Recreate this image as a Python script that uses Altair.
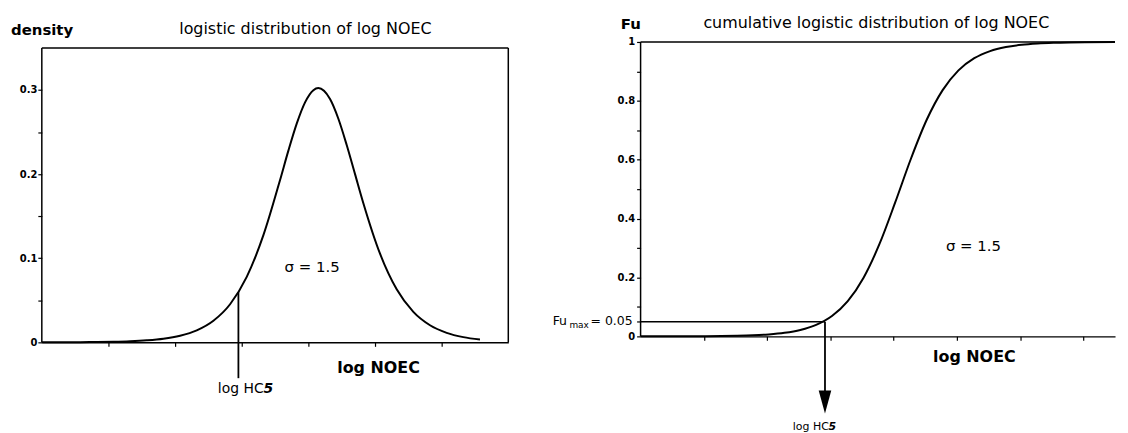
import altair as alt
import pandas as pd

# ---------------- data ----------------
# left panel: logistic density of log NOEC (sigma = 1.5)
dens_x = [0.0, 0.65, 1.15, 1.65, 2.15, 2.65, 3.15, 3.65, 4.15, 4.65, 5.15, 5.65, 6.15, 6.65,
          7.15, 7.4, 7.65, 7.9, 8.15, 8.3, 8.65, 8.9, 9.15, 9.4, 9.65, 10.15, 10.65, 11.15,
          11.65, 12.15, 12.65, 13.15]
dens_y = [0.0001, 0.0001, 0.0002, 0.0004, 0.0007, 0.0013, 0.0024, 0.0043, 0.0079, 0.0143,
          0.0257, 0.0453, 0.0778, 0.1274, 0.1930, 0.2279, 0.2600, 0.2853, 0.2998, 0.3023,
          0.2892, 0.2658, 0.2346, 0.2000, 0.1654, 0.1054, 0.0630, 0.0362, 0.0203, 0.0113,
          0.0062, 0.0034]

# right panel: cumulative logistic distribution (Fu)
cum_x = [0.0, 0.55, 1.05, 1.55, 2.05, 2.55, 3.05, 3.55, 4.05, 4.55, 5.05, 5.55, 6.05, 6.55,
         7.05, 7.55, 8.05, 8.55, 9.05, 9.55, 10.05, 10.55, 11.05, 11.55, 12.05, 12.55, 13.05,
         13.55, 14.05, 15.0]
cum_y = [0.0001, 0.0001, 0.0002, 0.0003, 0.0006, 0.0011, 0.0020, 0.0036, 0.0066, 0.0120,
         0.0217, 0.0390, 0.0691, 0.1197, 0.1993, 0.3130, 0.4549, 0.6042, 0.7365, 0.8365,
         0.9035, 0.9449, 0.9691, 0.9829, 0.9906, 0.9948, 0.9972, 0.9985, 0.9992, 0.9997]

hc5_left_x = [5.9]
hc5_left_top = [0.0597]
hc5_left_bottom = [-0.0426]

hc5_right_x = [5.83]
fu_max = [0.05]
arrow_bottom = [-0.19]
arrow_head = [-0.223]

left_ticks_x = [2, 4, 6, 8, 10, 12]
left_ticks_y = [0, 0.05, 0.1, 0.15, 0.2, 0.25, 0.3]
right_ticks_x = [2, 4, 6, 8, 10, 12, 14]
right_ticks_y = [0, 0.05, 0.1, 0.2, 0.3, 0.4, 0.5, 0.6, 0.7, 0.8, 0.9, 1.0]

left_box_x = [0, 0, 14]
left_box_x2 = [0, 14, 14]
left_box_y = [0, 0.35, 0]
left_box_y2 = [0.35, 0.35, 0.35]

right_box_x = [0, 0]
right_box_x2 = [0, 15]
right_box_y = [0, 1]
right_box_y2 = [1, 1]

FONT = "DejaVu Sans"
W1, W2, H = 469, 477, 302


def txt(s, x, y, size, weight="normal", align="left", style="normal"):
    return alt.Chart(pd.DataFrame({"t": [s]})).mark_text(
        font=FONT, fontSize=size, fontWeight=weight, fontStyle=style,
        align=align, baseline="middle", color="black"
    ).encode(x=alt.value(x), y=alt.value(y), text="t:N")


# ---------------- left panel ----------------
xl_scale = alt.Scale(domain=[0, 14], nice=False, zero=False)
yl_scale = alt.Scale(domain=[0, 0.3571], nice=False, zero=False)
xl_axis = alt.Axis(values=left_ticks_x, labels=False, grid=False, tickSize=4,
                   tickColor="black", tickWidth=1.2, domainColor="black",
                   domainWidth=1.5, title=None)
yl_axis = alt.Axis(values=left_ticks_y, grid=False, domain=False, tickSize=4,
                   tickColor="black", tickWidth=1.2, labelFont=FONT,
                   labelFontWeight="bold", labelFontSize=10, labelColor="black",
                   labelPadding=1, title=None,
                   labelExpr="datum.value == 0 ? '0' : (abs(datum.value*10 - round(datum.value*10)) < 0.001 ? format(datum.value, '.1f') : '')")


def XL(f):
    return alt.X(f"{f}:Q", scale=xl_scale, axis=xl_axis, title=None)


def YL(f):
    return alt.Y(f"{f}:Q", scale=yl_scale, axis=yl_axis, title=None)


left_box = alt.Chart(pd.DataFrame({"x": left_box_x, "x2": left_box_x2,
                                   "y": left_box_y, "y2": left_box_y2})).mark_rule(
    color="black", strokeWidth=1.5).encode(x=XL("x"), x2="x2", y=YL("y"), y2="y2")

left_curve = alt.Chart(pd.DataFrame({"x": dens_x, "y": dens_y})).mark_line(
    color="black", strokeWidth=2, interpolate="monotone").encode(x=XL("x"), y=YL("y"))

left_hc5 = alt.Chart(pd.DataFrame({"x": hc5_left_x, "y": hc5_left_bottom,
                                   "y2": hc5_left_top})).mark_rule(
    color="black", strokeWidth=1.8).encode(x=XL("x"), y=YL("y"), y2="y2")

left = alt.layer(
    left_box, left_curve, left_hc5,
    txt("density", -31, -12, 15, weight="bold"),
    txt("logistic distribution of log NOEC", 265, -13, 16, align="center"),
    txt("σ = 1.5", 244, 226, 15),
    txt("log NOEC", 297, 328, 16, weight="bold"),
    txt("log HC", 177, 349, 14),
    txt("5", 223, 349, 14, weight="bold", style="italic"),
).properties(width=W1, height=H)

# ---------------- right panel ----------------
xr_scale = alt.Scale(domain=[0, 15], nice=False, zero=False)
yr_scale = alt.Scale(domain=[-0.0203, 1], nice=False, zero=False)
xr_axis = alt.Axis(values=right_ticks_x, labels=False, grid=False, tickSize=4,
                   tickColor="black", tickWidth=1.2, domainColor="black",
                   domainWidth=1.5, title=None, offset=-6)
yr_axis = alt.Axis(values=right_ticks_y, grid=False, domain=False, tickSize=4,
                   tickColor="black", tickWidth=1.2, labelFont=FONT,
                   labelFontWeight="bold", labelFontSize=10, labelColor="black",
                   labelPadding=2, title=None,
                   labelExpr="datum.value == 0 ? '0' : datum.value == 1 ? '1' : (abs(datum.value*5 - round(datum.value*5)) < 0.001 ? format(datum.value, '.1f') : '')")


def XR(f):
    return alt.X(f"{f}:Q", scale=xr_scale, axis=xr_axis, title=None)


def YR(f):
    return alt.Y(f"{f}:Q", scale=yr_scale, axis=yr_axis, title=None)


right_box = alt.Chart(pd.DataFrame({"x": right_box_x, "x2": right_box_x2,
                                    "y": right_box_y, "y2": right_box_y2})).mark_rule(
    color="black", strokeWidth=1.5).encode(x=XR("x"), x2="x2", y=YR("y"), y2="y2")

right_curve = alt.Chart(pd.DataFrame({"x": cum_x, "y": cum_y})).mark_line(
    color="black", strokeWidth=2, interpolate="monotone").encode(x=XR("x"), y=YR("y"))

right_h = alt.Chart(pd.DataFrame({"x": [0], "x2": hc5_right_x, "y": fu_max})).mark_rule(
    color="black", strokeWidth=1.5).encode(x=XR("x"), x2="x2", y=YR("y"))

right_v = alt.Chart(pd.DataFrame({"x": hc5_right_x, "y": arrow_bottom, "y2": fu_max})).mark_rule(
    color="black", strokeWidth=1.8).encode(x=XR("x"), y=YR("y"), y2="y2")

right_arrow = alt.Chart(pd.DataFrame({"x": hc5_right_x, "y": arrow_head})).mark_point(
    shape="M -0.55 -1 L 0.55 -1 L 0 1 Z", size=529, filled=True, color="black",
    opacity=1).encode(x=XR("x"), y=YR("y"))

right = alt.layer(
    right_box, right_curve, right_h, right_v, right_arrow,
    txt("Fu", -20, -18, 15, weight="bold"),
    txt("cumulative logistic distribution of log NOEC", 237, -19, 16, align="center"),
    txt("= 0.05", -8, 281, 12.5, align="right"),
    txt("max", -52, 285, 9, align="right"),
    txt("Fu", -74, 281, 12.5, align="right"),
    txt("σ = 1.5", 307, 205, 15),
    txt("log NOEC", 294, 317, 16, weight="bold"),
    txt("log HC", 153, 387, 11),
    txt("5", 189, 387, 11, weight="bold", style="italic"),
).properties(width=W2, height=H)

chart = alt.hconcat(
    left, right, spacing=133, bounds="flush",
    padding={"left": 2, "top": 5, "right": 0, "bottom": 0},
).configure_view(stroke="transparent")

chart.save("out.html", embed_options={"renderer": "svg", "actions": False})
